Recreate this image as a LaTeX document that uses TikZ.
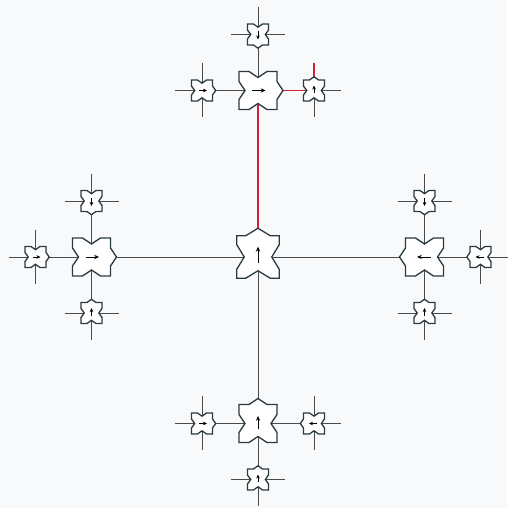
\documentclass[tikz,border=0pt]{standalone}
\usetikzlibrary{arrows.meta}
\definecolor{bg}{HTML}{F8F9FA}
\definecolor{edge}{HTML}{4A4A4A}
\definecolor{outl}{HTML}{2B3A42}
\definecolor{hot}{HTML}{D0213A}
\tikzset{
  conn/.style={draw=edge, line width=0.9pt},
  hotline/.style={draw=hot, line width=1.1pt},
  tileline/.style={draw=outl, fill=white, line width=1.3pt, line join=miter},
  arrowline/.style={draw=black, line width=0.8pt}
}
% #1 coord, #2 size, #3 angle, #4 notch half-width, #5 notch depth, #6 tail, #7 head, #8 head length
\newcommand{\tilepic}[8]{%
  \begin{scope}[shift={(#1)},rotate=#3]
    \pgfmathsetmacro{\th}{#2/2}
    \pgfmathsetmacro{\tw}{#4}
    \pgfmathsetmacro{\td}{#5}
    \pgfmathsetmacro{\tk}{0.9*#8}
    \draw[tileline] (-\th,-\th) -- (-\tw,-\th) -- (0,-\th+\td) -- (\tw,-\th) -- (\th,-\th)
      -- (\th,-\tw) -- (\th+\td,0) -- (\th,\tw) -- (\th,\th)
      -- (\tw,\th) -- (0,\th-\td) -- (-\tw,\th) -- (-\th,\th)
      -- (-\th,\tw) -- (-\th+\td,0) -- (-\th,-\tw) -- cycle;
    \draw[arrowline,-{Stealth[length=#8pt,width=\tk pt]}] (#6,0) -- (#7,0);
  \end{scope}}
\newcommand{\bigtile}[2]{\tilepic{#1}{42.5}{#2}{12.3}{7.5}{-6.3}{10.3}{5}}
\newcommand{\midtile}[2]{\tilepic{#1}{38}{#2}{9}{6}{-6}{7.5}{4.8}}
\newcommand{\smalltile}[2]{\tilepic{#1}{21}{#2}{4.5}{3.2}{-3}{5}{4}}
\newcommand{\leafstubs}[1]{%
  \path (#1) ++(0,27) coordinate (#1-n) (#1) ++(0,-27) coordinate (#1-s)
        (#1) ++(27,0) coordinate (#1-e) (#1) ++(-27,0) coordinate (#1-w);
  \draw[conn] (#1-w) -- (#1-e) (#1-n) -- (#1-s);}
\begin{document}
\begin{tikzpicture}[x=1pt,y=1pt]
  \fill[bg] (0,0) rectangle (507,508);
  \useasboundingbox (0,0) rectangle (507,508);
  % centres
  \coordinate (C) at (258,251);
  \coordinate (T) at (258,417.5);
  \coordinate (B) at (258,84.5);
  \coordinate (L) at (91.5,251);
  \coordinate (R) at (424.5,251);
  \coordinate (TL) at (202,417.5);
  \coordinate (TR) at (314,417.5);
  \coordinate (TT) at (258,473.5);
  \coordinate (LL) at (35.5,251);
  \coordinate (LT) at (91.5,307);
  \coordinate (LB) at (91.5,195);
  \coordinate (RR) at (480.5,251);
  \coordinate (RT) at (424.5,307);
  \coordinate (RB) at (424.5,195);
  \coordinate (BL) at (202,84.5);
  \coordinate (BR) at (314,84.5);
  \coordinate (BB) at (258,28.5);
  % grey connectors
  \draw[conn] (L) -- (R);
  \draw[conn] (C) -- (B);
  \draw[conn] (T) -- (TL);
  \draw[conn] (T) -- (TT);
  \draw[conn] (L) -- (LL);
  \draw[conn] (L) -- (LT);
  \draw[conn] (L) -- (LB);
  \draw[conn] (R) -- (RR);
  \draw[conn] (R) -- (RT);
  \draw[conn] (R) -- (RB);
  \draw[conn] (B) -- (BL);
  \draw[conn] (B) -- (BR);
  \draw[conn] (B) -- (BB);
  % stubs
  \leafstubs{TL}\leafstubs{TR}\leafstubs{TT}
  \leafstubs{LL}\leafstubs{LT}\leafstubs{LB}
  \leafstubs{RR}\leafstubs{RT}\leafstubs{RB}
  \leafstubs{BL}\leafstubs{BR}\leafstubs{BB}
  % red path
  \draw[hotline] (C) -- (T);
  \draw[hotline] (T) -- (TR);
  \draw[hotline] (TR) -- (TR-n);
  % tiles
  \bigtile{C}{90}
  \midtile{T}{0}
  \midtile{L}{0}
  \midtile{R}{180}
  \midtile{B}{90}
  \smalltile{TL}{0}
  \smalltile{TT}{270}
  \smalltile{TR}{90}
  \smalltile{LL}{0}
  \smalltile{LT}{270}
  \smalltile{LB}{90}
  \smalltile{RR}{180}
  \smalltile{RT}{270}
  \smalltile{RB}{90}
  \smalltile{BL}{0}
  \smalltile{BR}{180}
  \smalltile{BB}{90}
\end{tikzpicture}
\end{document}
